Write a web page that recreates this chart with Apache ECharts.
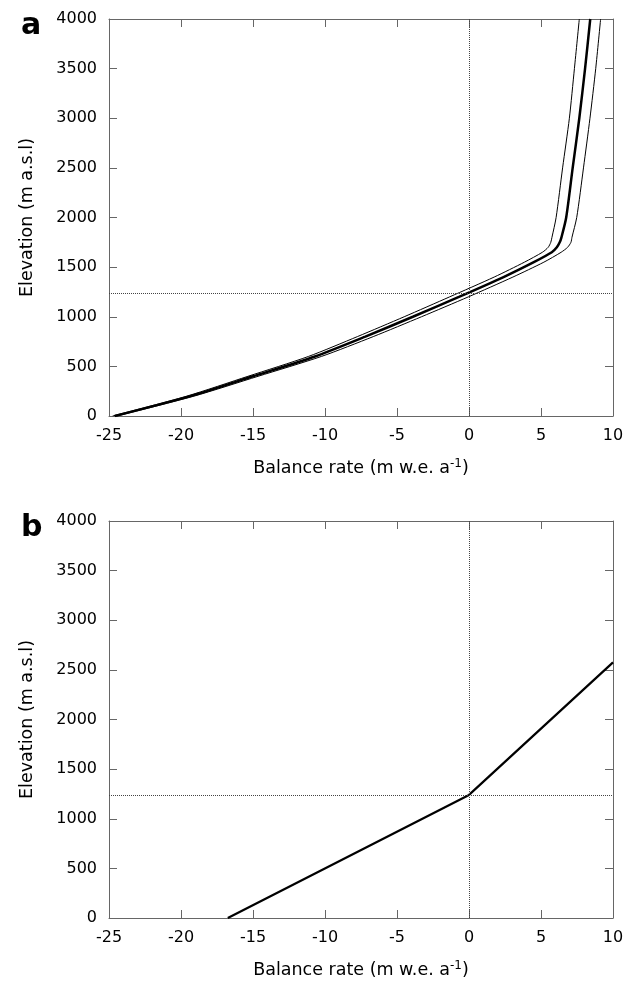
<!DOCTYPE html>
<html>
<head>
<meta charset="utf-8">
<script src="https://cdn.jsdelivr.net/npm/echarts@6/dist/echarts.min.js"></script>
<style>
  html, body { margin: 0; padding: 0; background: #fff; }
  #chart { width: 635px; height: 985px; }
</style>
</head>
<body>
<div id="chart"></div>
<script>
// 轴范围与刻度
const balanceTicks = [-25, -20, -15, -10, -5, 0, 5, 10];
const elevationTicks = [0, 500, 1000, 1500, 2000, 2500, 3000, 3500, 4000];
const ela = 1240;

// 面板 a：高程（m a.s.l）及三条平衡率曲线
const elevationA = [0, 200, 400, 600, 800, 1000, 1200, 1400, 1550, 1650, 1700, 1750, 1800, 2000, 2500, 3000, 3500, 4000];
const balanceMid = [-24.6, -19.35, -15.0, -10.7, -7.2, -3.9, -0.7, 2.4, 4.5, 5.75, 6.1, 6.3, 6.42, 6.75, 7.2, 7.66, 8.06, 8.42];
const balanceLow = [-24.75, -19.6, -15.35, -11.15, -7.75, -4.5, -1.35, 1.75, 3.85, 5.1, 5.5, 5.68, 5.76, 6.05, 6.5, 6.97, 7.32, 7.66];
const balanceHigh = [-24.45, -19.1, -14.65, -10.25, -6.65, -3.3, -0.05, 3.05, 5.2, 6.4, 6.85, 7.08, 7.15, 7.48, 7.95, 8.4, 8.8, 9.14];

// 面板 b：分段线性平衡梯度
const elevationB = [0, 1240, 2575];
const balanceB = [-16.75, 0, 10];

const pairs = (xs, ys) => xs.map((x, i) => [x, ys[i]]);

const axisColor = '#666';
const labelFont = 'DejaVu Sans';
const plain = (v) => String(v);

function xAxes(gridIndex) {
  return [{
    type: 'value', gridIndex, position: 'bottom',
    min: balanceTicks[0], max: balanceTicks[balanceTicks.length - 1], interval: 5,
    axisLine: { onZero: false, lineStyle: { color: axisColor, width: 1 } },
    axisTick: { inside: true, length: 8, lineStyle: { color: axisColor } },
    axisLabel: { color: '#000', fontSize: 16, fontFamily: labelFont, margin: 12, formatter: plain },
    splitLine: { show: false },
    name: 'Balance rate (m w.e. a{sup|-1})',
    nameLocation: 'middle', nameGap: 42,
    nameTextStyle: {
      color: '#000', fontSize: 17.5, fontFamily: labelFont,
      rich: { sup: { fontSize: 12, fontFamily: labelFont, color: '#000', verticalAlign: 'top', padding: [0, 0, 8, 0] } }
    }
  }, {
    type: 'value', gridIndex, position: 'top',
    min: balanceTicks[0], max: balanceTicks[balanceTicks.length - 1], interval: 5,
    axisLine: { onZero: false, lineStyle: { color: axisColor, width: 1 } },
    axisTick: { inside: true, length: 8, lineStyle: { color: axisColor } },
    axisLabel: { show: false },
    splitLine: { show: false }
  }];
}

function yAxes(gridIndex) {
  return [{
    type: 'value', gridIndex, position: 'left',
    min: elevationTicks[0], max: elevationTicks[elevationTicks.length - 1], interval: 500,
    axisLine: { show: true, onZero: false, lineStyle: { color: axisColor, width: 1 } },
    axisTick: { show: true, inside: true, length: 8, lineStyle: { color: axisColor } },
    axisLabel: { color: '#000', fontSize: 16, fontFamily: labelFont, margin: 12, formatter: plain },
    splitLine: { show: false },
    name: 'Elevation (m a.s.l)',
    nameLocation: 'middle', nameGap: 73, nameRotate: 90,
    nameTextStyle: { color: '#000', fontSize: 17.5, fontFamily: labelFont }
  }, {
    type: 'value', gridIndex, position: 'right',
    min: elevationTicks[0], max: elevationTicks[elevationTicks.length - 1], interval: 500,
    axisLine: { show: true, onZero: false, lineStyle: { color: axisColor, width: 1 } },
    axisTick: { show: true, inside: true, length: 8, lineStyle: { color: axisColor } },
    axisLabel: { show: false },
    splitLine: { show: false }
  }];
}

// 零平衡线与 ELA 虚线
function refLines() {
  return {
    silent: true,
    symbol: 'none',
    label: { show: false },
    lineStyle: { color: '#444', type: [1, 1], width: 1 },
    data: [{ xAxis: 0 }, { yAxis: ela }]
  };
}

const chart = echarts.init(document.getElementById('chart'));

const option = {
  backgroundColor: '#fff',
  animation: false,
  title: [
    { text: 'a', left: 16, top: 6, textStyle: { fontSize: 30, fontWeight: 'bold', color: '#000', fontFamily: labelFont } },
    { text: 'b', left: 16, top: 508, textStyle: { fontSize: 30, fontWeight: 'bold', color: '#000', fontFamily: labelFont } }
  ],
  grid: [
    { left: 109, top: 19, width: 504, height: 397 },
    { left: 109, top: 521, width: 504, height: 397 }
  ],
  xAxis: [...xAxes(0), ...xAxes(1)],
  yAxis: [...yAxes(0), ...yAxes(1)],
  series: [
    {
      name: 'low', type: 'line', xAxisIndex: 0, yAxisIndex: 0,
      data: pairs(balanceLow, elevationA), showSymbol: false, smooth: 0.25,
      lineStyle: { color: '#000', width: 1 },
      markLine: refLines()
    },
    {
      name: 'mid', type: 'line', xAxisIndex: 0, yAxisIndex: 0,
      data: pairs(balanceMid, elevationA), showSymbol: false, smooth: 0.25,
      lineStyle: { color: '#000', width: 2.5 }
    },
    {
      name: 'high', type: 'line', xAxisIndex: 0, yAxisIndex: 0,
      data: pairs(balanceHigh, elevationA), showSymbol: false, smooth: 0.25,
      lineStyle: { color: '#000', width: 1 }
    },
    {
      name: 'linear', type: 'line', xAxisIndex: 2, yAxisIndex: 2,
      data: pairs(balanceB, elevationB), showSymbol: false,
      lineStyle: { color: '#000', width: 2.2 },
      markLine: refLines()
    }
  ]
};

chart.setOption(option);
</script>
</body>
</html>
